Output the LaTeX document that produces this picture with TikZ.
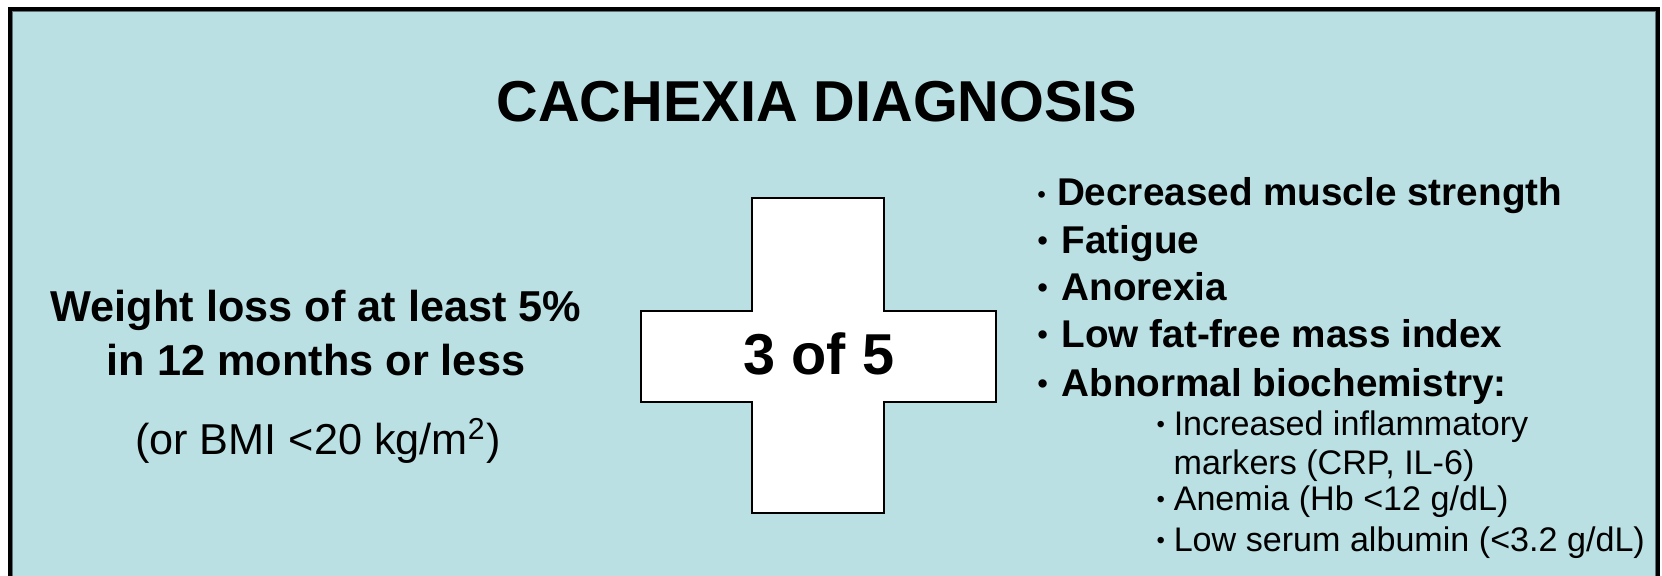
\documentclass[tikz,border=0pt]{standalone}
\usepackage{fontspec}
\setmainfont{Liberation Sans}
\usepackage{graphicx}
\usetikzlibrary{positioning}
\definecolor{PanelTeal}{RGB}{186,224,227}
\definecolor{FrameGrey}{RGB}{95,115,118}
\newcommand\dotmark[2][0.62em]{\makebox[#1][l]{\raisebox{0.18ex}{\scalebox{#2}{•}}}}
\tikzset{
  heading/.style={font=\fontsize{16.4}{19}\selectfont\bfseries,anchor=base,inner sep=0pt},
  crit/.style={font=\fontsize{12.3}{15}\selectfont\bfseries,anchor=base,inner sep=0pt},
  critnote/.style={font=\fontsize{12.3}{15}\selectfont,anchor=base,inner sep=0pt},
  item/.style={font=\fontsize{11}{13}\selectfont\bfseries,anchor=base west,inner sep=0pt},
  subitem/.style={font=\fontsize{9.7}{12}\selectfont,anchor=base west,inner sep=0pt},
  plus/.style={draw=black,fill=white,line width=0.6pt},
}
\begin{document}
\begin{tikzpicture}[x=0.01cm,y=-0.01cm]
    \useasboundingbox (0,0) rectangle (1662,576);
    \clip (0,0) rectangle (1662,576);
    % panel
    \fill[white] (0,0) rectangle (1662,576);
    \draw[fill=PanelTeal,line width=0.9pt] (10,9) rectangle (1658,600);
    \draw[FrameGrey,line width=0.3pt] (12.5,11.5) -- (1655.5,11.5) -- (1655.5,600);
    \draw[FrameGrey,line width=0.3pt] (12.5,11.5) -- (12.5,600);
    \node[heading] (title) at (817,122) {CACHEXIA DIAGNOSIS};
    % weight loss criterion
    \node[crit] (wl1) at (316,322) {Weight loss of at least 5\%};
    \node[crit] (wl2) at (316,376) {in 12 months or less};
    \node[critnote] (bmi) at (318,455) {(or BMI <20 kg/m\textsuperscript{2})};
    % plus sign
    \draw[plus] (752,198) -- (884,198) -- (884,311) -- (996,311) -- (996,402)
      -- (884,402) -- (884,513) -- (752,513) -- (752,402) -- (641,402)
      -- (641,311) -- (752,311) -- cycle;
    \node[heading] (three) at (819,375) {3 of 5};
    % list of criteria
    \node[item] (str) at (1037,206) {\dotmark[0.5em]{0.6}Decreased muscle strength};
    \node[item] (fat) at (1037,254) {\dotmark{0.75}Fatigue};
    \node[item] (ano) at (1037,301) {\dotmark{0.75}Anorexia};
    \node[item] (ffm) at (1037,348) {\dotmark{0.75}Low fat-free mass index};
    \node[item] (bio) at (1037,397) {\dotmark{0.75}Abnormal biochemistry:};
    \node[subitem] (crp) at (1156,436) {\dotmark[0.5em]{0.7}Increased inflammatory};
    \node[subitem] (mrk) at (1173,475) {markers (CRP, IL-6)};
    \node[subitem] (hb) at (1156,511) {\dotmark[0.5em]{0.7}Anemia (Hb <12 g/dL)};
    \node[subitem] (alb) at (1156,552) {\dotmark[0.5em]{0.7}Low serum albumin (<3.2 g/dL)};
  \end{tikzpicture}
\end{document}
